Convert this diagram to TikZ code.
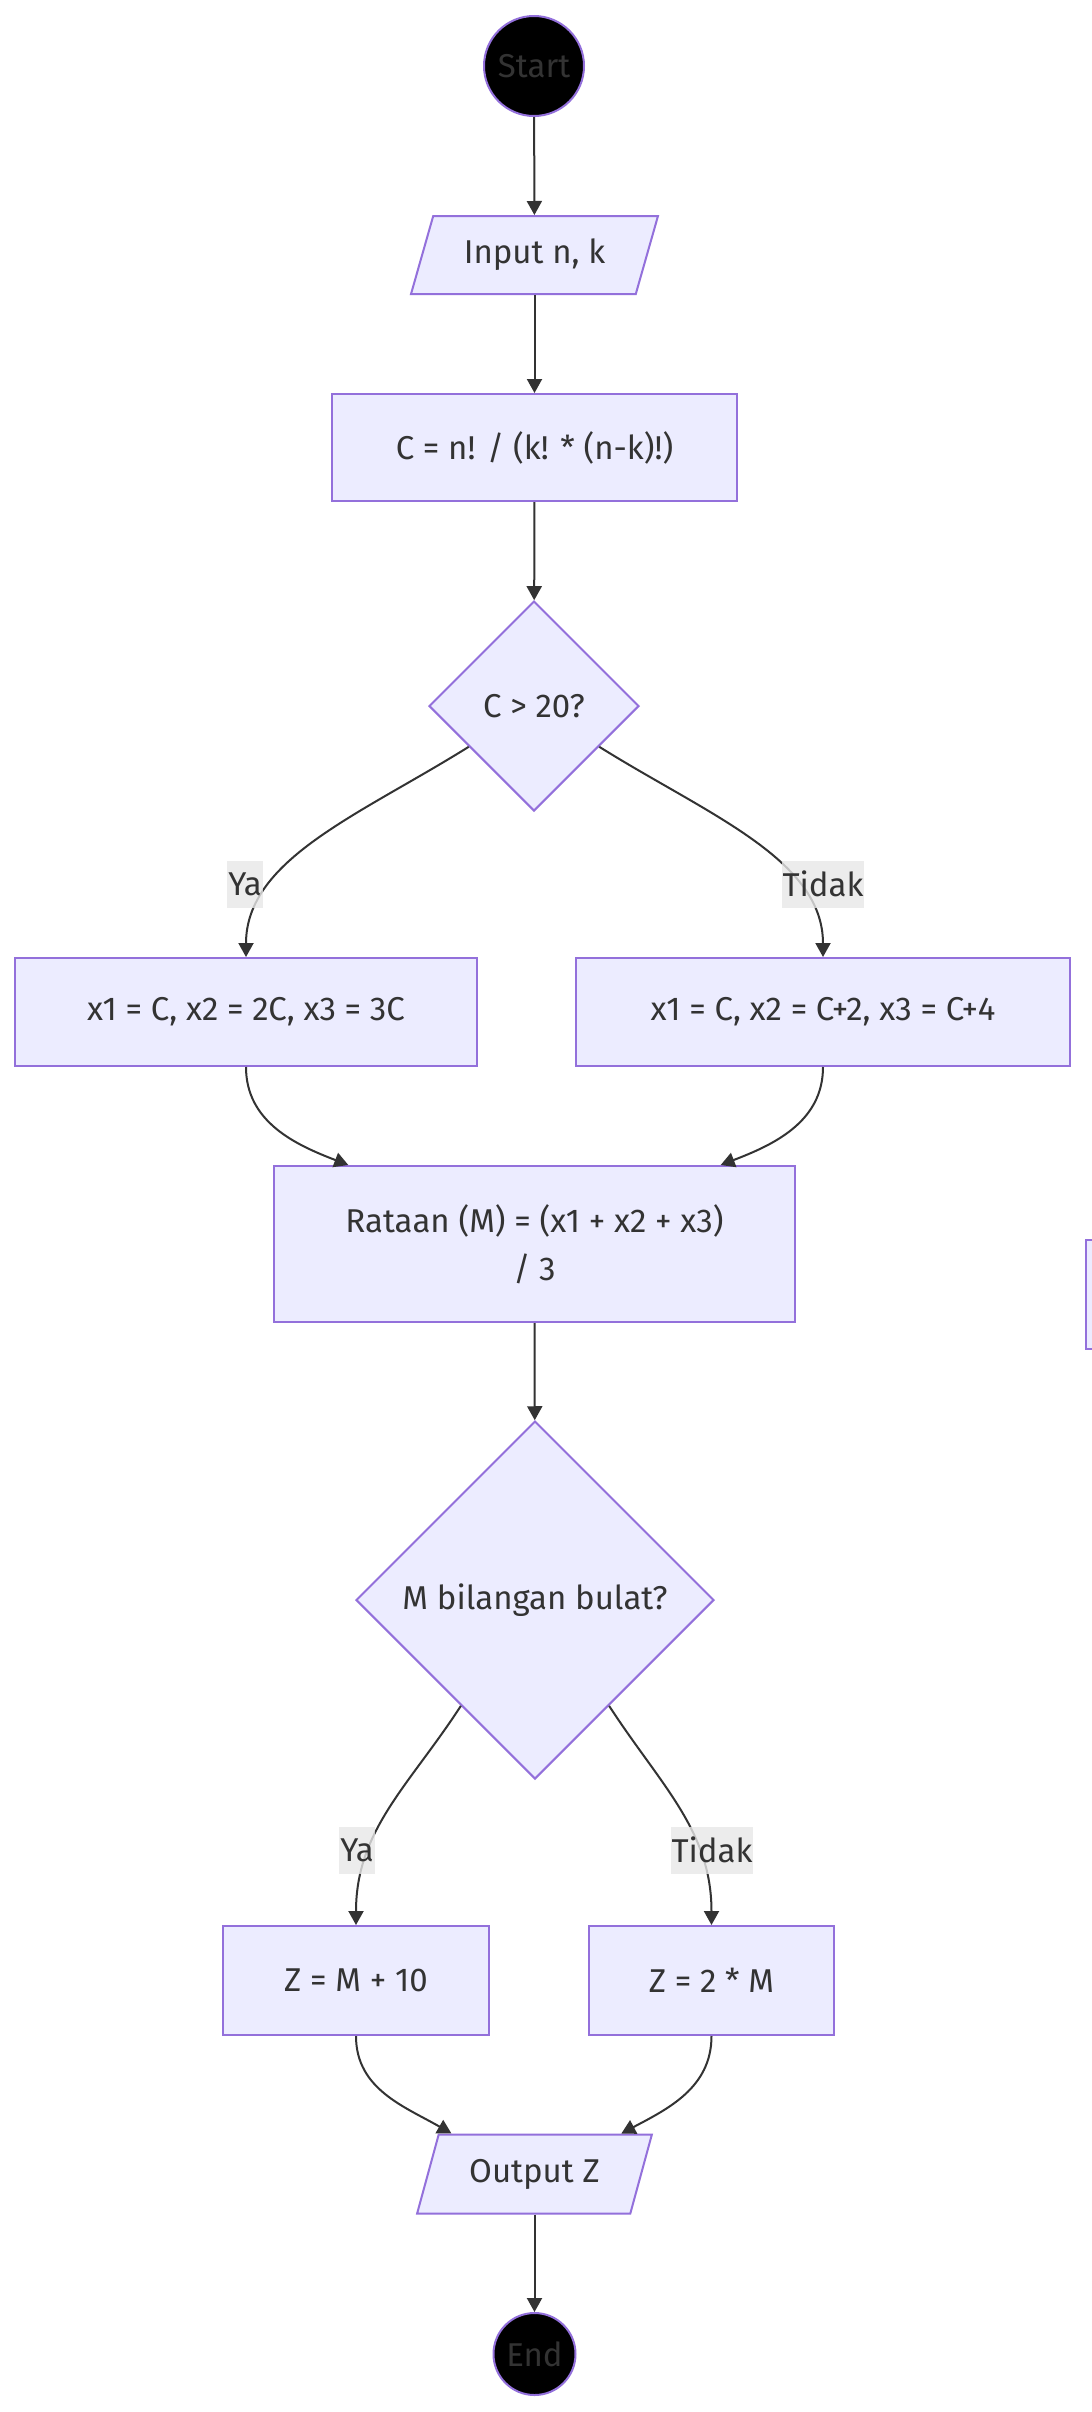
\documentclass[tikz,border=0pt]{standalone}
\usepackage{fontspec}
\setmainfont{Fira Sans}
\usetikzlibrary{shapes.geometric,arrows.meta}
\definecolor{nodefill}{HTML}{ECECFF}
\definecolor{nodeline}{HTML}{9370DB}
\definecolor{edgegray}{HTML}{333333}
\definecolor{lblgray}{HTML}{E8E8E8}
\begin{document}
\begin{tikzpicture}[x=1pt,y=1pt,
  every node/.style={font=\fontsize{33}{48}\selectfont,text=edgegray},
  box/.style={draw=nodeline,line width=2pt,fill=nodefill,minimum height=108pt,inner sep=0pt,align=center},
  decide/.style={box,diamond,aspect=1},
  io/.style={box,trapezium,trapezium left angle=64,trapezium right angle=116,trapezium stretches=true,minimum height=78pt},
  term/.style={circle,draw=nodeline,line width=2pt,fill=black,inner sep=0pt},
  flow/.style={draw=edgegray,line width=2pt,-{Triangle[length=14pt,width=15pt]}},
  lbl/.style={fill=lblgray,fill opacity=0.8,text opacity=1,inner xsep=1pt,inner ysep=0pt,minimum height=47pt}]
\path[use as bounding box,fill=white] (0,0) rectangle (1092,-2412);
\node[term,minimum size=100pt] (st) at (534,-66) {Start};
\node[io,minimum width=247pt] (inp) at (534.5,-255) {Input n, k};
\node[box,minimum width=405pt,minimum height=107pt] (cn) at (534.5,-447.5) {C = n! / (k! * (n-k)!)};
\node[decide,minimum width=210pt,minimum height=210pt] (d1) at (534,-706) {C > 20?};
\node[box,minimum width=462pt] (xa) at (246,-1012) {x1 = C, x2 = 2C, x3 = 3C};
\node[box,minimum width=494pt] (xb) at (823,-1012) {x1 = C, x2 = C+2, x3 = C+4};
\node[box,minimum width=521pt,minimum height=156pt] (rt) at (534.5,-1244) {Rataan (M) = (x1 + x2 + x3)\\/ 3};
\node[decide,minimum width=358pt,minimum height=358pt] (d2) at (535,-1600) {M bilangan bulat?};
\node[box,minimum width=266pt,minimum height=109pt] (za) at (356,-1980.5) {Z = M + 10};
\node[box,minimum width=245pt,minimum height=109pt] (zb) at (711.5,-1980.5) {Z = 2 * M};
\node[io,minimum width=235pt,minimum height=79pt] (oz) at (534.5,-2174) {Output Z};
\node[term,minimum size=82pt] (en) at (534.5,-2354) {End};
\draw[draw=nodeline,line width=2pt,fill=nodefill] (1086,-1240) rectangle (1160,-1349);
% straight links
\foreach \a/\b in {st/inp,inp/cn,cn/d1,rt/d2,oz/en}
  \draw[flow] (\a) -- (\b);
% branches
\draw[flow] (d1.212) to[out=212,in=90,out distance=128pt,in distance=98pt] (xa.north);
\draw[flow] (d1.328) to[out=328,in=90,out distance=128pt,in distance=98pt] (xb.north);
\draw[flow] (xa.south) to[out=-90,in=159] (rt.157);
\draw[flow] (xb.south) to[out=-90,in=21] (rt.23);
\draw[flow] (d2.235) to[out=237,in=90] (za.north);
\draw[flow] (d2.305) to[out=303,in=90] (zb.north);
\draw[flow] (za.south) to[out=-90,in=150] (oz.154);
\draw[flow] (zb.south) to[out=-90,in=28] (oz.25);
\foreach \n/\x/\y/\t in {ya1/245/884/Ya,tk1/823/884/Tidak,ya2/357/1850/Ya,tk2/712/1850/Tidak}
  \node[lbl] (\n) at (\x,-\y) {\t};
\end{tikzpicture}
\end{document}
